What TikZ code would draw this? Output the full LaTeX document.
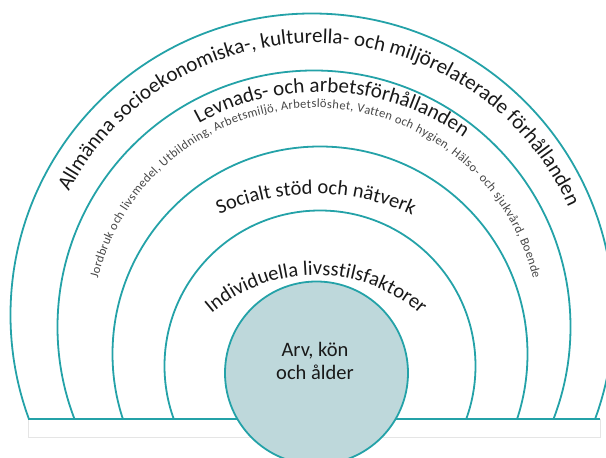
\documentclass[tikz,border=0pt]{standalone}
\usepackage{fontspec}
\setmainfont{Carlito}
\usetikzlibrary{decorations.text}
\definecolor{ringcol}{RGB}{36,162,168}
\definecolor{corefill}{RGB}{190,216,219}
\definecolor{txtcol}{RGB}{25,25,25}
\definecolor{smallcol}{RGB}{70,70,70}
\newcommand\bigtxt{\fontsize{21}{24}\selectfont}
\newcommand\midtxt{\fontsize{20.5}{24}\selectfont}
\newcommand\smalltxt{\fontsize{12.5}{14}\selectfont}
\begin{document}
\begin{tikzpicture}[x=1pt,y=1pt,
  ring/.style={draw=ringcol, line width=1.8pt},
  arctext/.style={decorate, decoration={text along path, text align=center, text color=txtcol}},
  smallarctext/.style={decorate, decoration={text along path, text align=fit to path, text color=smallcol}}]
\useasboundingbox (0,0) rectangle (606,458);
% ring centres
\coordinate (c1) at (312,143);
\coordinate (c2) at (314,131);
\coordinate (c3) at (320,104);
\coordinate (c4) at (320,92);
\coordinate (c0) at (316.5,85);
% text centres
\coordinate (t1) at (315,137);
\coordinate (t2) at (320,116);
\coordinate (t3) at (315.5,126);
\coordinate (t4) at (315,31);
\coordinate (t5) at (315.5,24);
% base
\draw[draw=black!10, fill=white, line width=0.6pt] (28,21) rectangle (600,39);
\draw[ringcol, line width=2pt] (28,39) -- (600,39);
% rings
\begin{scope}
\clip (0,39) rectangle (606,458);
\draw[ring] (c1) circle[radius=301.5];
\draw[ring] (c2) circle[radius=256.5];
\draw[ring] (c3) circle[radius=207.5];
\draw[ring] (c4) circle[radius=155.5];
\end{scope}
% core
\draw[ring, fill=corefill] (c0) circle[radius=91.5];
\node[text=txtcol, align=center, font=\fontsize{20.5}{23.5}\selectfont] (core) at (315,97) {Arv, kön\\och ålder};
% curved texts
\path[arctext, decoration={text={|\bigtxt|Allmänna socioekonomiska-, kulturella- och miljörelaterade förhållanden}}]
  ([shift={(154.3:278)}]t1) arc[start angle=154.3, end angle=22.2, radius=278];
\path[arctext, decoration={text={|\bigtxt|Levnads- och arbetsförhållanden}}]
  ([shift={(120.8:250)}]t2) arc[start angle=120.8, end angle=53.1, radius=250];
\path[smallarctext, decoration={text={|\smalltxt|Jordbruk och livsmedel, Utbildning, Arbetsmiljö, Arbetslöshet, Vatten och hygien, Hälso- och sjukvård, Boende}}]
  ([shift={(166.2:224)}]t3) arc[start angle=166.2, end angle=13.8, radius=224];
\path[arctext, decoration={text={|\midtxt|Socialt stöd och nätverk}}]
  ([shift={(116.5:233)}]t4) arc[start angle=116.5, end angle=63, radius=233];
\path[arctext, decoration={text={|\midtxt|Individuella livsstilsfaktorer}}]
  ([shift={(132:159)}]t5) arc[start angle=132, end angle=47.5, radius=159];
\end{tikzpicture}
\end{document}
